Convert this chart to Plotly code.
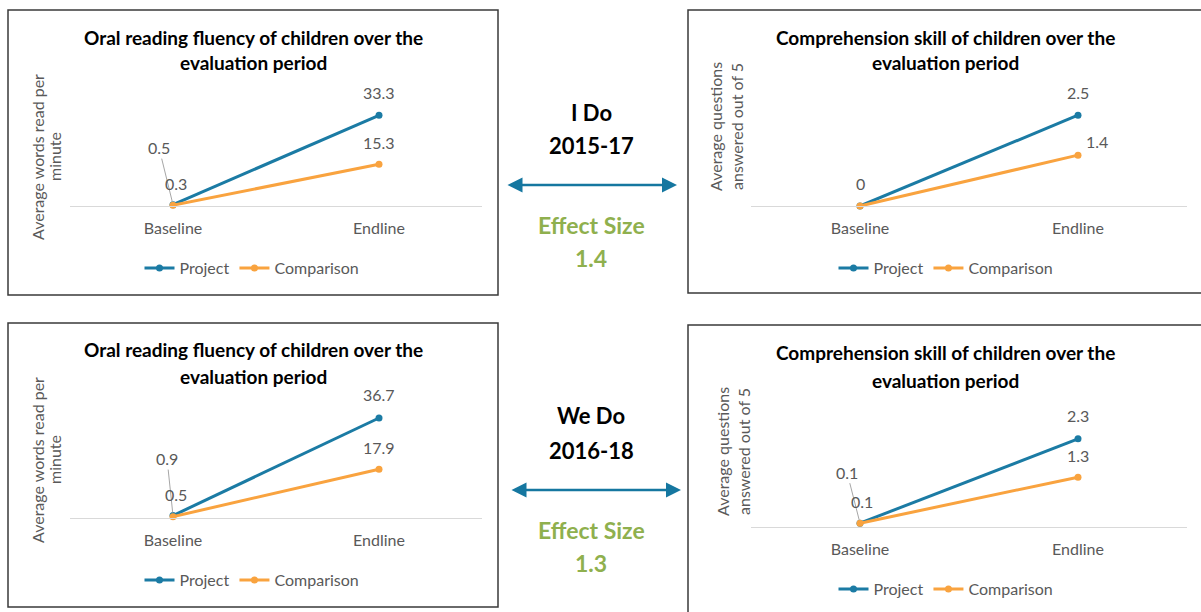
import plotly.graph_objects as go

W, H = 1201, 612

# ---------------- data ----------------
categories = ["Baseline", "Endline"]
series_names = ["Project", "Comparison"]

ido_fluency_project = [0.5, 33.3]
ido_fluency_comparison = [0.3, 15.3]
ido_comprehension_project = [0, 2.5]
ido_comprehension_comparison = [0, 1.4]

wedo_fluency_project = [0.9, 36.7]
wedo_fluency_comparison = [0.5, 17.9]
wedo_comprehension_project = [0.1, 2.3]
wedo_comprehension_comparison = [0.1, 1.3]

fluency_title = ["Oral reading fluency of children over the", "evaluation period"]
comprehension_title = ["Comprehension skill of children over the", "evaluation period"]
fluency_ytitle = ["Average words read per", "minute"]
comprehension_ytitle = ["Average questions", "answered out of 5"]

phases = ["I Do", "We Do"]
phase_years = ["2015-17", "2016-18"]
effect_sizes = ["1.4", "1.3"]

# ---------------- style ----------------
BLUE = "#1b7ba4"
ORANGE = "#f9a33f"
GREEN = "#8fb04e"
GREY = "#595959"
FONT = "Lato"
FS = 16


def px(x):
    return x / W


def py(y):
    return 1 - y / H


panels = [
    dict(proj=ido_fluency_project, comp=ido_fluency_comparison, title=fluency_title,
         ytitle=fluency_ytitle, box=(8, 10, 498, 295), dx=(70, 482), dy=(97, 206),
         yr=(0, 40), ytpos=(37, 54, 157), tpos=(253, 37, 63), lpos=(252, 268),
         base_lbl=[(-14, -57, True), (3, -22, False)], end_lbl=[(0, -23), (0, -22)]),
    dict(proj=ido_comprehension_project, comp=ido_comprehension_comparison, title=comprehension_title,
         ytitle=comprehension_ytitle, box=(688, 10, 1210, 293), dx=(751, 1187), dy=(97, 206),
         yr=(0, 3), ytpos=(715, 736, 127), tpos=(945, 37, 63), lpos=(946, 268),
         base_lbl=[(0, -23, False), None], end_lbl=[(0, -23), (19, -14)]),
    dict(proj=wedo_fluency_project, comp=wedo_fluency_comparison, title=fluency_title,
         ytitle=fluency_ytitle, box=(8, 323, 498, 607), dx=(70, 482), dy=(409, 518),
         yr=(0, 40), ytpos=(37, 54, 460), tpos=(253, 349, 376), lpos=(252, 580),
         base_lbl=[(-6, -57, True), (3, -22, False)], end_lbl=[(0, -23), (0, -22)]),
    dict(proj=wedo_comprehension_project, comp=wedo_comprehension_comparison, title=comprehension_title,
         ytitle=comprehension_ytitle, box=(688, 325, 1210, 620), dx=(751, 1187), dy=(412, 527),
         yr=(0, 3), ytpos=(722, 743, 452), tpos=(945, 352, 380), lpos=(946, 589),
         base_lbl=[(-13, -51, True), (2, -22, False)], end_lbl=[(0, -23), (0, -22)]),
]

fig = go.Figure()
layout = dict(
    width=W, height=H, margin=dict(l=0, r=0, t=0, b=0),
    paper_bgcolor="white", plot_bgcolor="rgba(0,0,0,0)",
    font=dict(family=FONT, color=GREY, size=FS),
    showlegend=True,
)
annotations = []
shapes = []


def paper_text(text, x, y, size, color, angle=0):
    return dict(text=text, x=px(x), y=py(y), xref="paper", yref="paper", showarrow=False,
                xanchor="center", yanchor="middle", textangle=angle,
                font=dict(size=size, color=color, family=FONT))


for i, p in enumerate(panels):
    n = "" if i == 0 else str(i + 1)
    xa, ya = "x" + n, "y" + n
    legname = "legend" + n
    for name, vals, col in [(series_names[0], p["proj"], BLUE), (series_names[1], p["comp"], ORANGE)]:
        fig.add_trace(go.Scatter(
            x=categories, y=vals, name=name, mode="lines+markers",
            line=dict(color=col, width=3), marker=dict(color=col, size=7),
            xaxis=xa, yaxis=ya, legend=legname, cliponaxis=False, hoverinfo="skip"))
    layout["xaxis" + n] = dict(
        domain=[px(p["dx"][0]), px(p["dx"][1])], anchor=ya, type="category",
        range=[-0.5, 1.5], showgrid=False, zeroline=False, showline=True,
        linecolor="#d9d9d9", linewidth=1, ticks="", ticklabelstandoff=8,
        tickfont=dict(size=FS, color=GREY, family=FONT), fixedrange=True)
    layout["yaxis" + n] = dict(
        domain=[py(p["dy"][1]), py(p["dy"][0])], anchor=xa, range=list(p["yr"]),
        showgrid=False, zeroline=False, showline=False, showticklabels=False,
        ticks="", fixedrange=True)
    layout[legname] = dict(
        orientation="h", x=px(p["lpos"][0]), y=py(p["lpos"][1]), xanchor="center",
        yanchor="middle", font=dict(size=FS, color=GREY, family=FONT),
        bgcolor="rgba(0,0,0,0)", itemwidth=30, tracegroupgap=0)
    # panel frame
    x0, y0, x1, y1 = p["box"]
    shapes.append(dict(type="rect", xref="paper", yref="paper", x0=px(x0), x1=px(x1),
                       y0=py(y1), y1=py(y0), line=dict(color="#3a3a3a", width=1.5)))
    # titles
    tx, ty1, ty2 = p["tpos"]
    for line, ty in zip(p["title"], [ty1, ty2]):
        annotations.append(paper_text("<b>%s</b>" % line, tx, ty, 19, "black"))
    # y axis title (two rotated lines)
    yx1, yx2, yc = p["ytpos"]
    annotations.append(paper_text(p["ytitle"][0], yx1, yc, FS, GREY, -90))
    annotations.append(paper_text(p["ytitle"][1], yx2, yc, FS, GREY, -90))
    # data labels
    for vals, bl, el in [(p["proj"], p["base_lbl"][0], p["end_lbl"][0]),
                         (p["comp"], p["base_lbl"][1], p["end_lbl"][1])]:
        if bl is not None:
            dxo, dyo, leader = bl
            if leader:
                annotations.append(dict(
                    text=str(vals[0]), x=categories[0], y=vals[0], xref=xa, yref=ya,
                    showarrow=True, ax=dxo, ay=dyo, arrowhead=0, arrowwidth=1,
                    arrowcolor="#a6a6a6", standoff=3,
                    font=dict(size=FS, color=GREY, family=FONT)))
            else:
                annotations.append(dict(
                    text=str(vals[0]), x=categories[0], y=vals[0], xref=xa, yref=ya,
                    showarrow=False, xshift=dxo, yshift=-dyo, xanchor="center", yanchor="middle",
                    font=dict(size=FS, color=GREY, family=FONT)))
        annotations.append(dict(
            text=str(vals[1]), x=categories[1], y=vals[1], xref=xa, yref=ya,
            showarrow=False, xshift=el[0], yshift=-el[1], xanchor="center", yanchor="middle",
            font=dict(size=FS, color=GREY, family=FONT)))

# middle texts and arrows
mid = [dict(y=(112, 145, 185, 225, 258), ax=(506, 677)),
       dict(y=(415, 450, 490, 530, 563), ax=(510, 681))]
for k, m in enumerate(mid):
    ys = m["y"]
    cx = 591
    annotations.append(paper_text("<b>%s</b>" % phases[k], cx, ys[0], 22, "black"))
    annotations.append(paper_text("<b>%s</b>" % phase_years[k], cx, ys[1], 22, "black"))
    annotations.append(paper_text("<b>Effect Size</b>", cx, ys[3], 23, GREEN))
    annotations.append(paper_text("<b>%s</b>" % effect_sizes[k], cx, ys[4], 23, GREEN))
    a0, a1 = m["ax"]
    annotations.append(dict(text="", x=px(a1), y=py(ys[2]), xref="paper", yref="paper",
                            showarrow=True, ax=-(a1 - a0), ay=0, arrowside="end+start",
                            arrowhead=2, arrowsize=1.2, arrowwidth=2.5, arrowcolor="#1577a0",
                            standoff=0, startstandoff=0))

layout["annotations"] = annotations
layout["shapes"] = shapes
fig.update_layout(**layout)
fig.write_html("out.html")
